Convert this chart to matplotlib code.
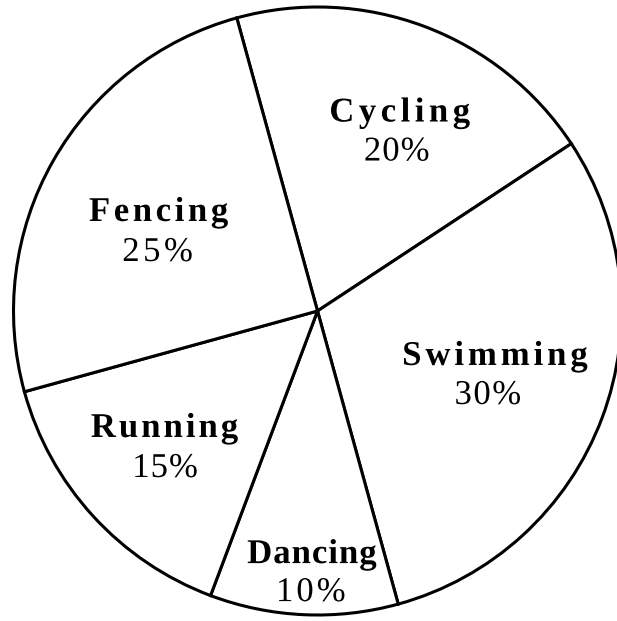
import numpy as np
import matplotlib
matplotlib.use("Agg")
import matplotlib.pyplot as plt
import matplotlib.transforms as mtransforms
from matplotlib.font_manager import FontProperties
from matplotlib.patheffects import AbstractPathEffect
from matplotlib.textpath import TextToPath
from matplotlib.path import Path

# ---- data ----
sports = ["Cycling", "Swimming", "Dancing", "Running", "Fencing"]
shares = [20, 30, 10, 15, 25]
pct_labels = ["20%", "30%", "10%", "15%", "25%"]

# ---- layout (pixels) ----
W, H = 617, 621
CX, CY, R = 317.5, 311.0, 304.0
START = 105.4
label_r = [0.619, 0.621, 0.892, 0.695, 0.573]
label_ang = [64.6, -22.9, -91.3, -136.3, 156.3]
gap_px = [39, 39, 38, 40, 40]
name_dx = [1.5, 3.5, 0.5, -0.3, 0.5]
name_track = [4.5, 3.9, 1.0, 3.0, 3.6]
pct_track = [1.0, 1.5, 3.0, 1.0, 3.5]
FS = 25


class Tracking(AbstractPathEffect):
    """Draw text with extra letter spacing (in pixels)."""

    def __init__(self, s, prop, track_px):
        super().__init__()
        self.s = s
        self.prop = prop
        self.track = track_px

    def draw_path(self, renderer, gc, tpath, affine, rgbFace=None):
        try:
            t2p = TextToPath()
            font = t2p._get_font(self.prop)
            font.set_size(t2p.FONT_SCALE, t2p.DPI)
            info, gmap, _ = t2p.get_glyphs_with_font(font, self.s)
            verts = np.array(tpath.vertices, dtype=float).copy()
            sx = affine.get_matrix()[0, 0]
            tu = self.track / sx
            n = len(info)
            counts = [len(gmap[g[0]][0]) for g in info]
            if sum(counts) != len(verts):
                raise ValueError
            idx = 0
            for i, m in enumerate(counts):
                verts[idx:idx + m, 0] += (i - (n - 1) / 2.0) * tu
                idx += m
            newpath = Path(verts, tpath.codes)
        except Exception:
            newpath = tpath
        renderer.draw_path(gc, newpath, affine, rgbFace)


fig = plt.figure(figsize=(W / 100, H / 100), dpi=100)
ax = fig.add_axes([0, 0, 1, 1])

wedges, _ = ax.pie(
    shares,
    startangle=START,
    counterclock=False,
    radius=1.0,
    colors=["white"] * len(shares),
    wedgeprops=dict(edgecolor="black", linewidth=2.2),
    frame=True,
)
ax.set_xlim(-CX / R, (W - CX) / R)
ax.set_ylim(-(H - CY) / R, CY / R)
ax.set_aspect("auto")
ax.axis("off")

bold = FontProperties(family="Liberation Serif", weight="bold", size=FS)
reg = FontProperties(family="Liberation Serif", weight="normal", size=FS)

for i, (name, pct) in enumerate(zip(sports, pct_labels)):
    a = np.deg2rad(label_ang[i])
    x, y = label_r[i] * np.cos(a), label_r[i] * np.sin(a)
    t1 = mtransforms.offset_copy(ax.transData, fig=fig, x=name_dx[i], y=gap_px[i] / 2, units="dots")
    t2 = mtransforms.offset_copy(ax.transData, fig=fig, x=-name_dx[i], y=-gap_px[i] / 2, units="dots")
    ax.text(x, y, name, transform=t1, ha="center", va="baseline", fontproperties=bold,
            path_effects=[Tracking(name, bold, name_track[i])])
    ax.text(x, y, pct, transform=t2, ha="center", va="baseline", fontproperties=reg,
            path_effects=[Tracking(pct, reg, pct_track[i])])

fig.savefig("out.png", dpi=100, facecolor="white")
